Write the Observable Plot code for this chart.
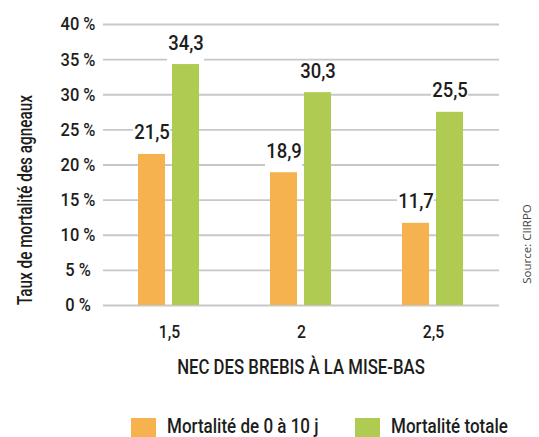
<!DOCTYPE html>
<html><head><meta charset="utf-8">
<script src="https://cdn.jsdelivr.net/npm/d3@7"></script>
<script src="https://cdn.jsdelivr.net/npm/@observablehq/plot@0.6"></script>
<style>
body{margin:0;background:#fff;width:539px;height:437px;overflow:hidden;position:relative;font-family:Roboto,sans-serif;font-weight:500;color:#1d1d1b;}
#chart svg{display:block}
#legend{position:absolute;left:131px;top:415.5px;display:flex;}
#legend .item{display:flex;align-items:flex-start;font-size:21px;line-height:21px;white-space:nowrap;}
#legend .item:first-child{width:224px;}
#legend .sw{width:25px;height:20px;margin-top:2.8px;margin-right:11px;flex:none;}
#legend .txt{display:inline-block;transform:scaleX(0.81);transform-origin:0 0;}
#ytitle{position:absolute;left:14.5px;top:305px;transform-origin:0 0;transform:rotate(-90deg) scaleX(0.74);font-size:20.7px;line-height:20.7px;white-space:nowrap;}
#xtitle{position:absolute;left:301px;top:356.6px;transform:translateX(-50%) scaleX(0.81);font-size:20.7px;line-height:20.7px;white-space:nowrap;}
#source{position:absolute;left:526px;top:244px;transform:translate(-50%,-50%) rotate(-90deg);font-family:"Open Sans","Noto Sans",sans-serif;font-weight:400;font-size:11.5px;color:#444;white-space:nowrap;}
</style></head><body>
<div id="chart"></div>
<div id="ytitle"></div>
<div id="xtitle"></div>
<div id="legend"></div>
<div id="source"></div>
<script>
const groups = ["1,5", "2", "2,5"];
const series = ["Mortalité de 0 à 10 j", "Mortalité totale"];
const colors = ["#F6B24E", "#AFCB52"];
const early = [21.5, 18.9, 11.7];
const total = [34.3, 30.3, 27.5];
const earlyLabels = ["21,5", "18,9", "11,7"];
const totalLabels = ["34,3", "30,3", "25,5"];
const yTicks = [0, 5, 10, 15, 20, 25, 30, 35, 40];
const xTitle = "NEC DES BREBIS À LA MISE-BAS";
const yTitle = "Taux de mortalité des agneaux";
const sourceText = "Source: CIIRPO";

const data = groups.flatMap((g, i) => [
  {group: g, series: series[0], value: early[i], label: earlyLabels[i]},
  {group: g, series: series[1], value: total[i], label: totalLabels[i]}
]);

const chart = Plot.plot({
  width: 539, height: 405,
  marginTop: 24, marginBottom: 100, marginLeft: 103, marginRight: 40,
  style: {fontFamily: "Roboto, sans-serif", fontWeight: 500, color: "#1d1d1b", background: "#fff"},
  fx: {domain: groups, padding: 0, label: null, axis: null},
  x: {domain: series, paddingInner: 0.2, paddingOuter: 1.0, axis: null},
  y: {domain: [0, 40], axis: null},
  color: {domain: series, range: colors},
  marks: [
    Plot.gridY(yTicks, {stroke: "#c8c8c8", strokeOpacity: 1, strokeWidth: 1.8}),
    Plot.axisY(yTicks, {tickSize: 0, tickPadding: 25.5, textAnchor: "middle", fontSize: 18.7, tickFormat: d => d + " %", label: null}),
    Plot.axisFx({anchor: "bottom", tickSize: 0, tickPadding: 20, fontSize: 17.9, label: null}),
    Plot.barY(data, {fx: "group", x: "series", y1: "value", y2: "value", fill: "white", insetTop: -31, insetLeft: -5, insetRight: -5}),
    Plot.barY(data, {fx: "group", x: "series", y: "value", fill: "series"}),
    Plot.text(data, {fx: "group", x: "series", y: "value", text: "label", dy: -15, lineAnchor: "bottom", fontSize: 21, fill: "#1d1d1b"})
  ]
});
// condensed look: narrow every chart text horizontally around its own anchor
chart.querySelectorAll("text").forEach(t => {
  const tr = t.getAttribute("transform");
  if (tr) t.setAttribute("transform", tr + " scale(0.88,1)");
});
document.getElementById("chart").append(chart);

document.getElementById("ytitle").textContent = yTitle;
document.getElementById("xtitle").textContent = xTitle;

const legend = document.getElementById("legend");
series.forEach((s, i) => {
  const item = document.createElement("div");
  item.className = "item";
  const sw = document.createElement("div");
  sw.className = "sw";
  sw.style.background = colors[i];
  const t = document.createElement("span");
  t.className = "txt";
  t.textContent = s;
  item.append(sw, t);
  legend.append(item);
});
document.getElementById("source").textContent = sourceText;
</script>
</body></html>
